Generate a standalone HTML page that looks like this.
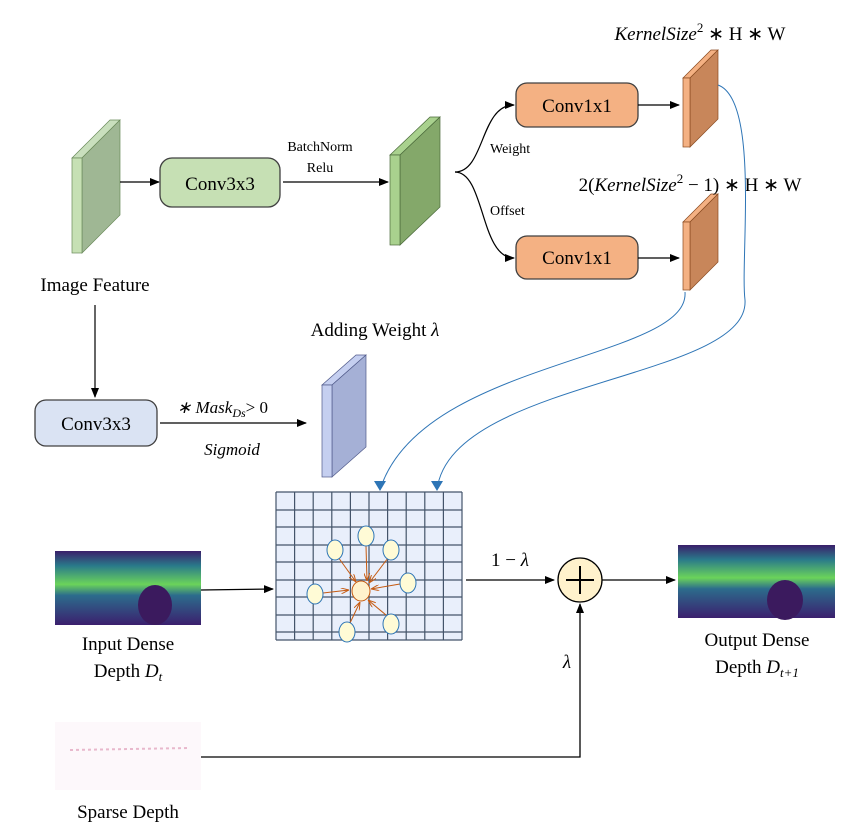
<!DOCTYPE html><html><head><style>body{margin:0;background:#fff}svg{display:block}text{font-family:"Liberation Serif",serif;fill:#000}</style></head><body>
<svg width="849" height="833" viewBox="0 0 849 833" xmlns="http://www.w3.org/2000/svg">
<defs>
<marker id="a" markerWidth="10" markerHeight="8" refX="9" refY="4" orient="auto" markerUnits="userSpaceOnUse"><path d="M0,0L10,4L0,8z" fill="#000"/></marker>
<marker id="b" markerWidth="12" markerHeight="10" refX="6" refY="9" orient="0" markerUnits="userSpaceOnUse"><path d="M0,0L12,0L6,10z" fill="#2e75b6"/></marker>
<marker id="o" markerWidth="8" markerHeight="6" refX="8" refY="3" orient="auto" markerUnits="userSpaceOnUse"><path d="M0,0L8,3L0,6" fill="none" stroke="#c55a11"/></marker>
<linearGradient id="dg" x1="0" y1="0" x2="0" y2="1"><stop offset="0" stop-color="#3a1f6a"/><stop offset="0.2" stop-color="#2a7a8a"/><stop offset="0.45" stop-color="#6bd35a"/><stop offset="0.6" stop-color="#2c6c8c"/><stop offset="1" stop-color="#3b1f6e"/></linearGradient>
</defs>
<!-- slab 1 -->
<polygon points="72,158 110,120 120,120 82,158" fill="#c9dfbd" stroke="#6a8a5a" stroke-width="0.7"/>
<polygon points="82,158 120,120 120,215 82,253" fill="#9fb794" stroke="#6a8a5a" stroke-width="0.7"/>
<rect x="72" y="158" width="10" height="95" fill="#c6e0b4" stroke="#6a8a5a" stroke-width="0.7"/>
<line x1="120" y1="182" x2="159" y2="182" stroke="#000" stroke-width="1.3" marker-end="url(#a)"/>
<rect x="160" y="158" width="120" height="49" rx="12" fill="#c6e0b4" stroke="#404040" stroke-width="1.3"/>
<text x="220" y="190" font-size="19" text-anchor="middle">Conv3x3</text>
<text x="320" y="151" font-size="14" text-anchor="middle">BatchNorm</text>
<text x="320" y="172" font-size="14" text-anchor="middle">Relu</text>
<line x1="283" y1="182" x2="388" y2="182" stroke="#000" stroke-width="1.3" marker-end="url(#a)"/>
<!-- slab 2 -->
<polygon points="390,155 430,117 440,117 400,155" fill="#a9d18e" stroke="#4a6a3a" stroke-width="0.7"/>
<polygon points="400,155 440,117 440,207 400,245" fill="#84a86a" stroke="#4a6a3a" stroke-width="0.7"/>
<rect x="390" y="155" width="10" height="90" fill="#a9d18e" stroke="#4a6a3a" stroke-width="0.7"/>
<path d="M455,172 C485,172 480,105 514,105" fill="none" stroke="#000" stroke-width="1.2" marker-end="url(#a)"/>
<path d="M455,172 C485,172 480,258 514,258" fill="none" stroke="#000" stroke-width="1.2" marker-end="url(#a)"/>
<text x="490" y="153" font-size="14">Weight</text>
<text x="490" y="215" font-size="14">Offset</text>
<rect x="516" y="83" width="122" height="44" rx="11" fill="#f4b183" stroke="#404040" stroke-width="1.3"/>
<text x="577" y="112" font-size="19" text-anchor="middle">Conv1x1</text>
<rect x="516" y="236" width="122" height="43" rx="11" fill="#f4b183" stroke="#404040" stroke-width="1.3"/>
<text x="577" y="264" font-size="19" text-anchor="middle">Conv1x1</text>
<line x1="638" y1="105" x2="679" y2="105" stroke="#000" stroke-width="1.3" marker-end="url(#a)"/>
<line x1="638" y1="258" x2="679" y2="258" stroke="#000" stroke-width="1.3" marker-end="url(#a)"/>
<!-- orange slabs -->
<polygon points="683,78 711,50 718,50 690,78" fill="#f4b183" stroke="#8a4a20" stroke-width="0.7"/>
<polygon points="690,78 718,50 718,119 690,147" fill="#c8865a" stroke="#8a4a20" stroke-width="0.7"/>
<rect x="683" y="78" width="7" height="69" fill="#f4b183" stroke="#8a4a20" stroke-width="0.7"/>
<polygon points="683,222 711,194 718,194 690,222" fill="#f4b183" stroke="#8a4a20" stroke-width="0.7"/>
<polygon points="690,222 718,194 718,262 690,290" fill="#c8865a" stroke="#8a4a20" stroke-width="0.7"/>
<rect x="683" y="222" width="7" height="68" fill="#f4b183" stroke="#8a4a20" stroke-width="0.7"/>
<text x="700" y="40" font-size="19" text-anchor="middle"><tspan font-style="italic">KernelSize</tspan><tspan dy="-8" font-size="13">2</tspan><tspan dy="8"> ∗ H ∗ W</tspan></text>
<text x="690" y="191" font-size="19" text-anchor="middle">2(<tspan font-style="italic">KernelSize</tspan><tspan dy="-8" font-size="13">2</tspan><tspan dy="8"> − 1) ∗ H ∗ W</tspan></text>
<!-- left lower -->
<text x="95" y="291" font-size="19" text-anchor="middle">Image Feature</text>
<line x1="95" y1="305" x2="95" y2="397" stroke="#000" stroke-width="1.2" marker-end="url(#a)"/>
<rect x="35" y="400" width="122" height="46" rx="11" fill="#dae3f3" stroke="#404040" stroke-width="1.3"/>
<text x="96" y="430" font-size="19" text-anchor="middle">Conv3x3</text>
<text x="177" y="413" font-size="17" font-style="italic">∗ Mask<tspan dy="4" font-size="12">Ds</tspan><tspan dy="-4" font-style="normal">&gt; 0</tspan></text>
<line x1="160" y1="423" x2="306" y2="423" stroke="#000" stroke-width="1.3" marker-end="url(#a)"/>
<text x="232" y="455" font-size="17" font-style="italic" text-anchor="middle">Sigmoid</text>
<polygon points="322,385 356,355 366,355 332,385" fill="#c5cff0" stroke="#505a8a" stroke-width="0.7"/>
<polygon points="332,385 366,355 366,447 332,477" fill="#a5b0d6" stroke="#505a8a" stroke-width="0.7"/>
<rect x="322" y="385" width="10" height="92" fill="#c5cff0" stroke="#505a8a" stroke-width="0.7"/>
<text x="375" y="336" font-size="19" text-anchor="middle">Adding Weight <tspan font-style="italic">λ</tspan></text>
<!-- blue curves -->
<path d="M685,292 C690,360 420,360 380,490" fill="none" stroke="#2e75b6" stroke-width="1" marker-end="url(#b)"/>
<path d="M718,85 C760,100 740,260 745,300 C750,380 450,380 437,490" fill="none" stroke="#2e75b6" stroke-width="1" marker-end="url(#b)"/>
<!-- grid -->
<rect x="276" y="492" width="186" height="148" fill="#e9effb"/>
<g stroke="#44546a" stroke-width="1.2">
<line x1="276" y1="492" x2="276" y2="640"/><line x1="294.6" y1="492" x2="294.6" y2="640"/><line x1="313.2" y1="492" x2="313.2" y2="640"/><line x1="331.8" y1="492" x2="331.8" y2="640"/><line x1="350.4" y1="492" x2="350.4" y2="640"/><line x1="369" y1="492" x2="369" y2="640"/><line x1="387.6" y1="492" x2="387.6" y2="640"/><line x1="406.2" y1="492" x2="406.2" y2="640"/><line x1="424.8" y1="492" x2="424.8" y2="640"/><line x1="443.4" y1="492" x2="443.4" y2="640"/><line x1="462" y1="492" x2="462" y2="640"/>
<line x1="276" y1="492" x2="462" y2="492"/><line x1="276" y1="510" x2="462" y2="510"/><line x1="276" y1="527" x2="462" y2="527"/><line x1="276" y1="545" x2="462" y2="545"/><line x1="276" y1="562" x2="462" y2="562"/><line x1="276" y1="580" x2="462" y2="580"/><line x1="276" y1="597" x2="462" y2="597"/><line x1="276" y1="615" x2="462" y2="615"/><line x1="276" y1="632" x2="462" y2="632"/><line x1="276" y1="640" x2="462" y2="640"/>
</g>
<g stroke="#c55a11" stroke-width="1" marker-end="url(#o)">
<line x1="338" y1="557" x2="356" y2="582"/><line x1="366" y1="546" x2="367" y2="581"/><line x1="388" y1="558" x2="369" y2="583"/><line x1="400" y1="584" x2="371" y2="589"/><line x1="323" y1="593" x2="349" y2="590"/><line x1="350" y1="623" x2="360" y2="602"/><line x1="386" y1="615" x2="368" y2="600"/>
</g>
<g fill="#fffbd6" stroke="#2e75b6" stroke-width="1">
<ellipse cx="335" cy="550" rx="8" ry="10"/><ellipse cx="366" cy="536" rx="8" ry="10"/><ellipse cx="391" cy="550" rx="8" ry="10"/><ellipse cx="408" cy="583" rx="8" ry="10"/><ellipse cx="315" cy="594" rx="8" ry="10"/><ellipse cx="347" cy="632" rx="8" ry="10"/><ellipse cx="391" cy="624" rx="8" ry="10"/>
</g>
<ellipse cx="361" cy="591" rx="9" ry="10" fill="#fff2cc" stroke="#c55a11" stroke-width="1"/>
<!-- depth -->
<rect x="55" y="551" width="146" height="74" fill="url(#dg)"/>
<ellipse cx="155" cy="605" rx="17" ry="20" fill="#3b1a5e"/>
<line x1="201" y1="590" x2="273" y2="589" stroke="#000" stroke-width="1.3" marker-end="url(#a)"/>
<text x="128" y="650" font-size="19" text-anchor="middle">Input Dense</text>
<text x="128" y="677" font-size="19" text-anchor="middle">Depth <tspan font-style="italic">D</tspan><tspan dy="4" font-size="13" font-style="italic">t</tspan></text>
<line x1="466" y1="580" x2="554" y2="580" stroke="#000" stroke-width="1.3" marker-end="url(#a)"/>
<text x="510" y="566" font-size="19" text-anchor="middle">1 − <tspan font-style="italic">λ</tspan></text>
<circle cx="580" cy="580" r="22" fill="#fff2cc" stroke="#000" stroke-width="1.3"/>
<line x1="566" y1="580" x2="594" y2="580" stroke="#000" stroke-width="2"/><line x1="580" y1="566" x2="580" y2="594" stroke="#000" stroke-width="2"/>
<line x1="602" y1="580" x2="675" y2="580" stroke="#000" stroke-width="1.3" marker-end="url(#a)"/>
<rect x="678" y="545" width="157" height="73" fill="url(#dg)"/>
<ellipse cx="785" cy="600" rx="18" ry="20" fill="#3b1a5e"/>
<text x="757" y="646" font-size="19" text-anchor="middle">Output Dense</text>
<text x="757" y="673" font-size="19" text-anchor="middle">Depth <tspan font-style="italic">D</tspan><tspan dy="4" font-size="13" font-style="italic">t+1</tspan></text>
<text x="567" y="668" font-size="19" font-style="italic" text-anchor="middle">λ</text>
<rect x="55" y="722" width="146" height="68" fill="#fdf8fb"/>
<line x1="70" y1="750" x2="190" y2="748" stroke="#e8b8cc" stroke-width="2" stroke-dasharray="3 3"/>
<polyline points="201,757 580,757 580,604" fill="none" stroke="#000" stroke-width="1.3" marker-end="url(#a)"/>
<text x="128" y="818" font-size="19" text-anchor="middle">Sparse Depth</text>
</svg>
</body></html>
